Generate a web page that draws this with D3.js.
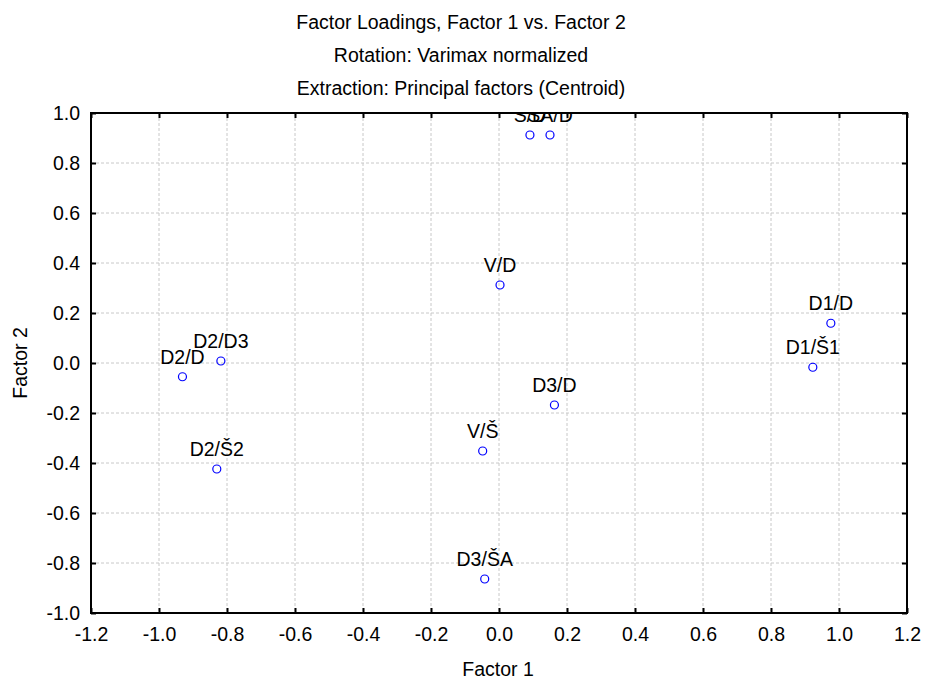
<!DOCTYPE html>
<html>
<head>
<meta charset="utf-8">
<script src="https://cdn.jsdelivr.net/npm/d3@7/dist/d3.min.js"></script>
<style>
  body { margin: 0; background: #fff; }
  text { font-family: "Liberation Sans", Arial, sans-serif; fill: #000; }
</style>
</head>
<body>
<svg id="chart" width="925" height="681"></svg>
<script>
// Factor loadings after varimax rotation
const variables = ["Š/D", "ŠA/D", "V/D", "D1/D", "D1/Š1", "D2/D3", "D2/D", "D2/Š2", "D3/D", "V/Š", "D3/ŠA"];
const factor1 = [0.091, 0.150, 0.003, 0.976, 0.923, -0.818, -0.931, -0.830, 0.163, -0.048, -0.042];
const factor2 = [0.912, 0.912, 0.312, 0.159, -0.017, 0.008, -0.055, -0.424, -0.168, -0.352, -0.864];
const xTicks = [-1.2, -1.0, -0.8, -0.6, -0.4, -0.2, 0.0, 0.2, 0.4, 0.6, 0.8, 1.0, 1.2];
const yTicks = [-1.0, -0.8, -0.6, -0.4, -0.2, 0.0, 0.2, 0.4, 0.6, 0.8, 1.0];
const titleLines = ["Factor Loadings, Factor 1 vs. Factor 2", "Rotation: Varimax normalized", "Extraction: Principal factors (Centroid)"];

const svg = d3.select("#chart");
const m = { left: 91, right: 907, top: 113, bottom: 613 };
const fontSize = 19.5;

const x = d3.scaleLinear().domain([-1.2, 1.2]).range([m.left, m.right]);
const y = d3.scaleLinear().domain([-1.0, 1.0]).range([m.bottom, m.top]);
// plain hyphen for negatives
const fmt = d => d3.format(".1f")(d).replace("\u2212", "-");

// grid
const grid = svg.append("g").attr("stroke", "#c8c8c8").attr("stroke-width", 1).attr("stroke-dasharray", "3,2");
grid.selectAll("line.gx").data(xTicks.slice(1, -1)).join("line").attr("class", "gx")
  .attr("x1", d => x(d)).attr("x2", d => x(d)).attr("y1", m.top).attr("y2", m.bottom);
grid.selectAll("line.gy").data(yTicks.slice(1, -1)).join("line").attr("class", "gy")
  .attr("x1", m.left).attr("x2", m.right).attr("y1", d => y(d)).attr("y2", d => y(d));

// axes with inward ticks on all four sides
const tickLen = 5;
svg.append("g").attr("transform", `translate(0,${m.bottom})`)
  .call(d3.axisBottom(x).tickValues(xTicks).tickFormat(fmt).tickSizeInner(-tickLen).tickSizeOuter(0).tickPadding(14))
  .call(g => g.select(".domain").remove());
svg.append("g").attr("transform", `translate(0,${m.top})`)
  .call(d3.axisTop(x).tickValues(xTicks).tickFormat("").tickSizeInner(-tickLen).tickSizeOuter(0))
  .call(g => g.select(".domain").remove());
svg.append("g").attr("transform", `translate(${m.left},0)`)
  .call(d3.axisLeft(y).tickValues(yTicks).tickFormat(fmt).tickSizeInner(-tickLen).tickSizeOuter(0).tickPadding(11))
  .call(g => g.select(".domain").remove());
svg.append("g").attr("transform", `translate(${m.right},0)`)
  .call(d3.axisRight(y).tickValues(yTicks).tickFormat("").tickSizeInner(-tickLen).tickSizeOuter(0))
  .call(g => g.select(".domain").remove());

svg.selectAll(".tick line").attr("stroke", "#000").attr("stroke-width", 2);
svg.selectAll(".tick text").attr("font-size", fontSize).attr("font-family", "Liberation Sans, Arial, sans-serif").attr("fill", "#000");

// frame
svg.append("rect").attr("x", m.left).attr("y", m.top).attr("width", m.right - m.left).attr("height", m.bottom - m.top)
  .attr("fill", "none").attr("stroke", "#000").attr("stroke-width", 2);

// plotting region clip
svg.append("clipPath").attr("id", "plotClip").append("rect")
  .attr("x", m.left).attr("y", m.top).attr("width", m.right - m.left).attr("height", m.bottom - m.top);

const pts = variables.map((v, i) => ({ name: v, f1: factor1[i], f2: factor2[i] }));
const plot = svg.append("g").attr("clip-path", "url(#plotClip)");

plot.selectAll("circle").data(pts).join("circle")
  .attr("cx", d => x(d.f1)).attr("cy", d => y(d.f2)).attr("r", 4)
  .attr("fill", "none").attr("stroke", "#0000ff").attr("stroke-width", 1.2);

plot.selectAll("text.lbl").data(pts).join("text").attr("class", "lbl")
  .attr("x", d => x(d.f1)).attr("y", d => y(d.f2) - 13)
  .attr("text-anchor", "middle").attr("font-size", fontSize)
  .text(d => d.name);

// top border drawn over the clipped labels
svg.append("line").attr("x1", m.left).attr("x2", m.right).attr("y1", m.top).attr("y2", m.top)
  .attr("stroke", "#000").attr("stroke-width", 2);

// titles
svg.selectAll("text.title").data(titleLines).join("text").attr("class", "title")
  .attr("x", 461).attr("y", (d, i) => 29 + i * 33)
  .attr("text-anchor", "middle").attr("font-size", fontSize).text(d => d);

svg.append("text").attr("x", 498).attr("y", 676).attr("text-anchor", "middle").attr("font-size", fontSize).text("Factor 1");
svg.append("text").attr("transform", "translate(27,363) rotate(-90)").attr("text-anchor", "middle").attr("font-size", fontSize).text("Factor 2");
</script>
</body>
</html>
